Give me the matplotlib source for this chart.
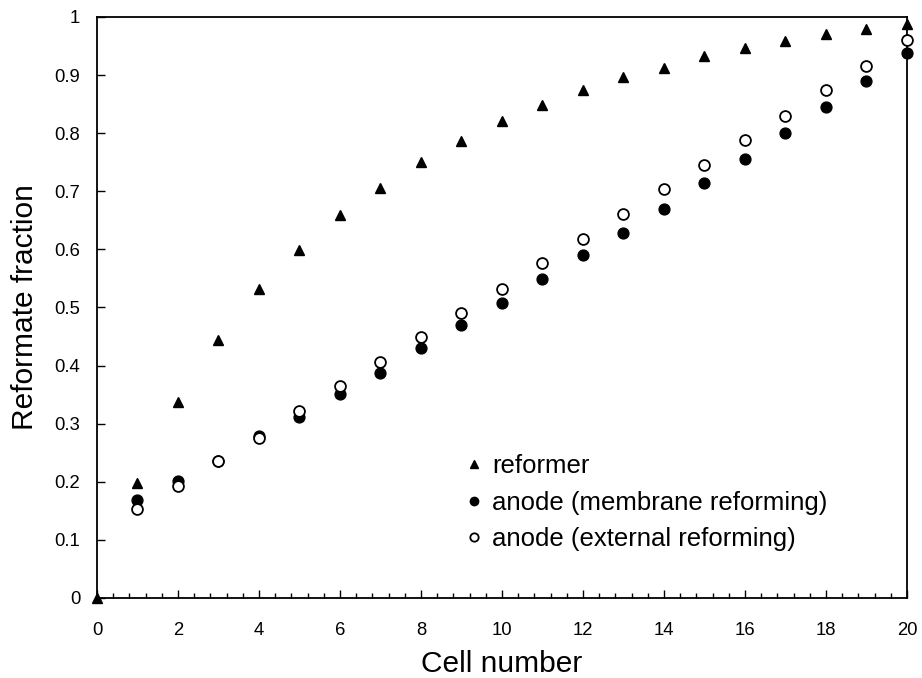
import numpy as np
import matplotlib
matplotlib.use("Agg")
import matplotlib.pyplot as plt
from matplotlib.ticker import MultipleLocator

plt.rcParams['font.family'] = ['Liberation Sans', 'DejaVu Sans']

cells = np.arange(0, 21)
cells_an = np.arange(1, 21)

reformer = [0.0, 0.198, 0.338, 0.444, 0.532, 0.599, 0.659, 0.706, 0.750, 0.787,
            0.821, 0.849, 0.874, 0.896, 0.913, 0.932, 0.947, 0.959, 0.970, 0.980, 0.988]
anode_membrane = [0.169, 0.202, 0.236, 0.278, 0.312, 0.351, 0.388, 0.430, 0.469, 0.508,
                  0.549, 0.590, 0.628, 0.670, 0.715, 0.756, 0.800, 0.845, 0.890, 0.938]
anode_external = [0.153, 0.193, 0.235, 0.276, 0.321, 0.365, 0.407, 0.450, 0.491, 0.532,
                  0.576, 0.617, 0.661, 0.704, 0.745, 0.789, 0.830, 0.874, 0.916, 0.960]

fig = plt.figure(figsize=(9.22, 6.78), dpi=100)
ax = fig.add_axes([0.1052, 0.118, 0.8785, 0.857])

ax.plot(cells, reformer, linestyle='none', marker='^', color='black',
        markersize=7.8, clip_on=False, label='reformer', zorder=3)
ax.plot(cells_an, anode_membrane, linestyle='none', marker='o', color='black',
        markersize=7.8, clip_on=False, label='anode (membrane reforming)', zorder=3)
ax.plot(cells_an, anode_external, linestyle='none', marker='o', markerfacecolor='white',
        markeredgecolor='black', markeredgewidth=1.3, markersize=7.8, clip_on=False,
        label='anode (external reforming)', zorder=3)

ax.set_xlim(0, 20)
ax.set_ylim(0, 1)
ax.xaxis.set_major_locator(MultipleLocator(2))
ax.xaxis.set_minor_locator(MultipleLocator(0.4))
ax.set_yticks(np.arange(0, 1.01, 0.1))
ax.set_yticklabels(['0'] + ['%.1f' % v for v in np.arange(0.1, 0.95, 0.1)] + ['1'])
ax.tick_params(axis='both', which='major', direction='in', length=6, width=1,
               labelsize=13.3, top=False, right=False)
ax.tick_params(axis='y', which='major', pad=12)
ax.tick_params(axis='x', which='major', pad=17.3)
ax.tick_params(axis='x', which='minor', direction='in', length=3.5, width=1, top=False)
for s in ax.spines.values():
    s.set_linewidth(1.3)

ax.set_xlabel('Cell number', fontsize=21.5, labelpad=8)
ax.set_ylabel('Reformate fraction', fontsize=21.5, labelpad=11)

ax.legend(loc='upper left', bbox_to_anchor=(0.4934, 0.349), bbox_transform=fig.transFigure,
          frameon=False, fontsize=18.55, handlelength=0.5, handletextpad=0.45,
          labelspacing=0.479, borderpad=0, markerscale=0.77)

fig.savefig('out.png', dpi=100)
